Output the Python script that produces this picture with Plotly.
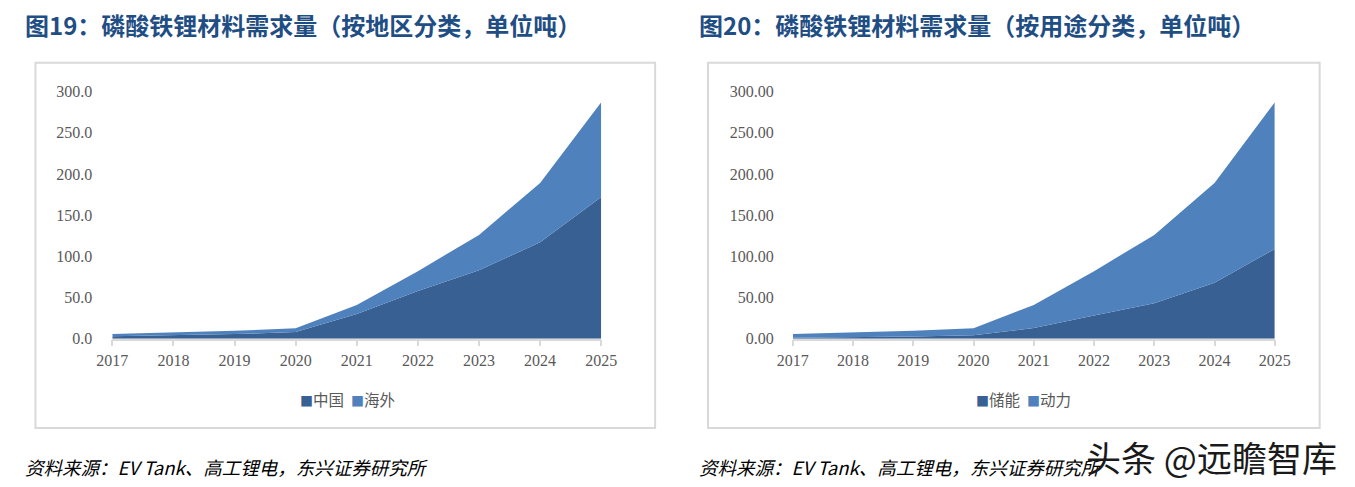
import plotly.graph_objects as go

W, H = 1355, 487

years = [2017, 2018, 2019, 2020, 2021, 2022, 2023, 2024, 2025]
year_labels = [str(y) for y in years]

# Chart 19: by region
china = [3.0, 4.0, 5.5, 8.0, 30.0, 58.0, 83.0, 117.0, 172.0]
overseas = [2.5, 3.5, 4.0, 4.5, 11.0, 24.0, 43.0, 72.0, 115.0]

# Chart 20: by use
storage = [1.0, 1.5, 2.5, 4.0, 13.0, 28.0, 43.0, 68.0, 109.0]
power = [4.5, 6.0, 7.0, 8.5, 28.0, 54.0, 83.0, 121.0, 178.0]

y_ticks = [0, 50, 100, 150, 200, 250, 300]

title_left = "图19：磷酸铁锂材料需求量（按地区分类，单位吨）"
title_right = "图20：磷酸铁锂材料需求量（按用途分类，单位吨）"
source_text = "资料来源：EV Tank、高工锂电，东兴证券研究所"
watermark = "头条 @远瞻智库"

DARK = "#386093"
LIGHT = "#4F81BD"
TICK_FONT = dict(family="Liberation Serif, DejaVu Serif, serif", size=16, color="#595959")

# the captured picture shows the page slightly inset/scaled; map target picture px -> layout px
SX, OX = 0.9785, 14.5
SY, OY = 0.967, 8.2


def px_x(x):
    return min(max((x - OX) / SX / W, 0), 1)


def px_y(y):
    return min(max(1 - (y - OY) / SY / H, 0), 1)


fig = go.Figure()

panels = [
    dict(xa="x", ya="y", s1=("中国", china), s2=("海外", overseas), lx=347),
    dict(xa="x2", ya="y2", s1=("储能", storage), s2=("动力", power), lx=1024),
]

for p in panels:
    n1, v1 = p["s1"]
    n2, v2 = p["s2"]
    for name, vals, col in [(n1, v1, DARK), (n2, v2, LIGHT)]:
        fig.add_trace(go.Scatter(x=years, y=vals, name=name, mode="lines", stackgroup=p["xa"],
                                 line=dict(width=0, color=col), fillcolor=col,
                                 xaxis=p["xa"], yaxis=p["ya"], showlegend=False,
                                 hoverinfo="x+y+name"))
    legend_text = (f"<span style='color:{DARK};font-size:13px'>■</span>{n1}  "
                   f"<span style='color:{LIGHT};font-size:13px'>■</span>{n2}")
    fig.add_annotation(x=px_x(p["lx"]), y=px_y(400), xref="paper", yref="paper",
                       xanchor="center", yanchor="middle", showarrow=False, text=legend_text,
                       font=dict(family="Noto Sans CJK SC", size=15.5, color="#595959"))

ydom = [px_y(339.5), px_y(92)]

common_x = dict(range=[2017, 2025], tickmode="array", tickvals=years, ticktext=year_labels,
                showgrid=False, zeroline=False, showline=True, linecolor="#d9d9d9", linewidth=1.5,
                ticks="outside", ticklen=6, tickcolor="#d9d9d9", tickwidth=1.5,
                tickfont=TICK_FONT, ticklabelstandoff=0, fixedrange=True)
common_y = dict(range=[0, 300], tickmode="array", tickvals=y_ticks, showgrid=False,
                zeroline=False, showline=False, ticks="", tickfont=TICK_FONT,
                domain=ydom, fixedrange=True)

fig.update_layout(
    width=W, height=H,
    margin=dict(l=0, r=0, t=0, b=0),
    paper_bgcolor="white", plot_bgcolor="rgba(0,0,0,0)",
    showlegend=False,
    xaxis=dict(common_x, domain=[px_x(111), px_x(601)], anchor="y"),
    yaxis=dict(common_y, anchor="x", tickformat=".1f", ticklabelstandoff=19),
    xaxis2=dict(common_x, domain=[px_x(793), px_x(1276)], anchor="y2"),
    yaxis2=dict(common_y, anchor="x2", tickformat=".2f", ticklabelstandoff=18),
    hovermode="closest",
)

# Panel frames
for x0, x1 in [(34, 655), (708, 1321)]:
    fig.add_shape(type="rect", xref="paper", yref="paper",
                  x0=px_x(x0), x1=px_x(x1), y0=px_y(429), y1=px_y(63),
                  line=dict(color="#d9d9d9", width=2), fillcolor="rgba(0,0,0,0)", layer="below")

# Titles
for x, t in [(22, title_left), (697, title_right)]:
    fig.add_annotation(x=px_x(x), y=px_y(25), xref="paper", yref="paper", xanchor="left",
                       yanchor="middle", showarrow=False, text="<b>" + t + "</b>",
                       font=dict(family="Noto Sans CJK SC", size=24, color="#1F4E84"))

# Sources
for x in [22, 697]:
    fig.add_annotation(x=px_x(x), y=px_y(468), xref="paper", yref="paper", xanchor="left",
                       yanchor="middle", showarrow=False,
                       text="<i>" + source_text + "</i>",
                       font=dict(family="Noto Sans CJK SC", size=18.5, color="#000000"))

# Watermark
fig.add_annotation(x=1, y=px_y(458), xref="paper", yref="paper", xanchor="right",
                   yanchor="middle", showarrow=False, text=watermark,
                   font=dict(family="Noto Sans CJK SC", size=35, color="#1a1a1a"))

fig.write_html("out.html", config={"displayModeBar": False},
               post_script="document.body.style.margin='0';document.body.style.overflow='hidden';")
